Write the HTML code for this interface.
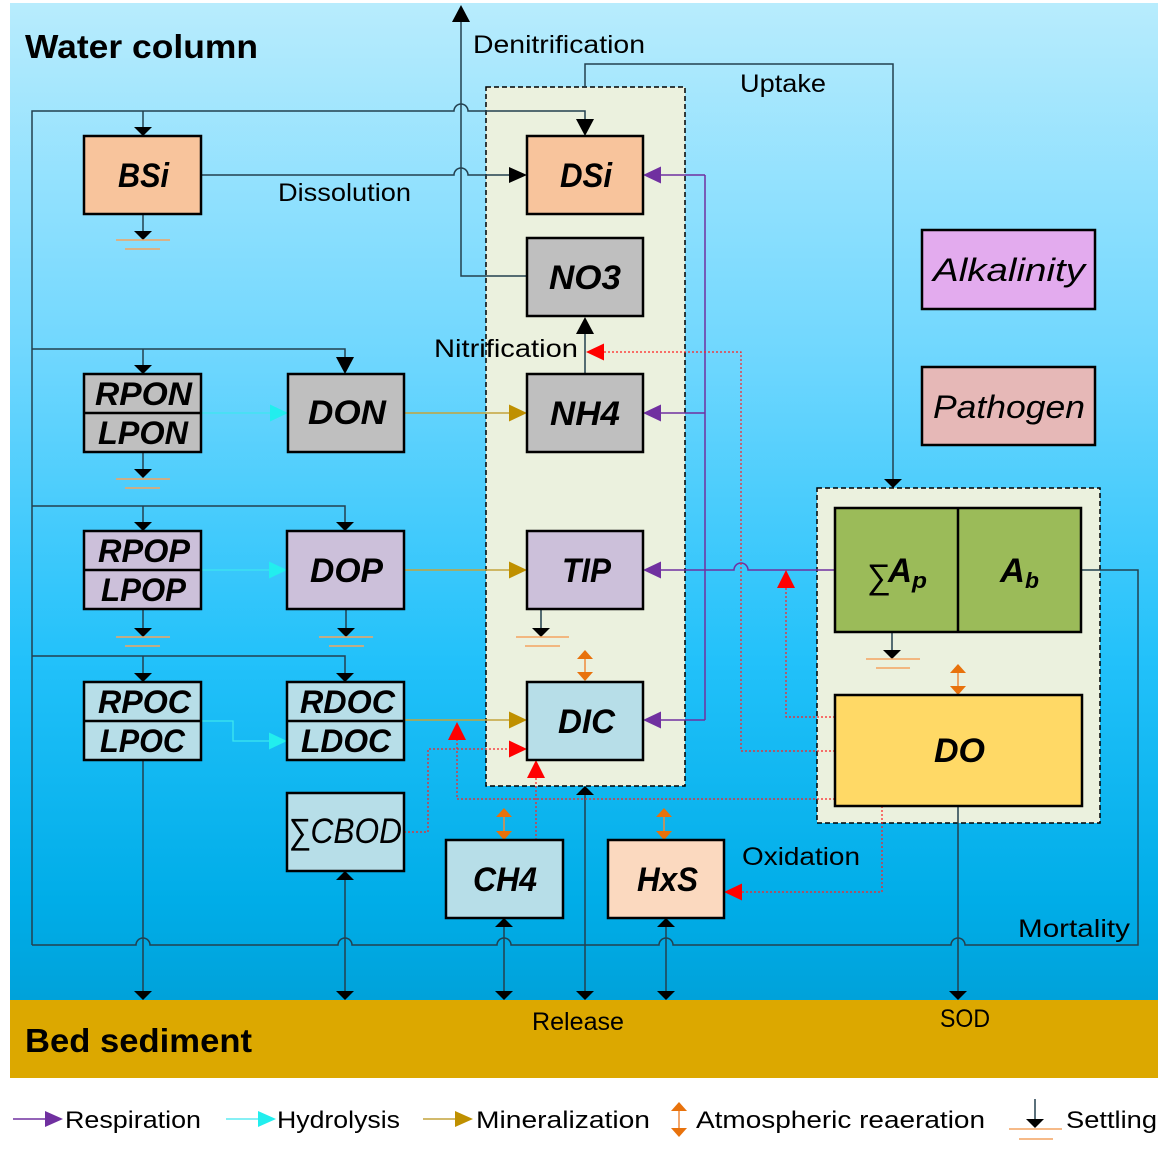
<!DOCTYPE html>
<html><head><meta charset="utf-8"><style>
html,body{margin:0;padding:0;background:#fff;}
svg{display:block;}
text{font-family:"Liberation Sans",sans-serif;fill:#000;}
.bi{font-weight:bold;font-style:italic;}
</style></head><body>
<svg width="1176" height="1154" viewBox="0 0 1176 1154" xmlns="http://www.w3.org/2000/svg">
<defs>
<linearGradient id="bg" x1="0" y1="0" x2="0" y2="1">
<stop offset="0" stop-color="#b8ecfd"/>
<stop offset="0.35" stop-color="#70d7fe"/>
<stop offset="0.66" stop-color="#22c1fa"/>
<stop offset="0.9" stop-color="#00ade8"/>
<stop offset="1" stop-color="#00a2da"/>
</linearGradient>
</defs>
<rect x="10" y="3" width="1148" height="997" fill="url(#bg)"/>
<rect x="10" y="1000" width="1148" height="78" fill="#dca800"/>

<!-- containers -->
<rect x="486" y="87" width="199" height="699" fill="#ebf1de" stroke="#000" stroke-width="1.5" stroke-dasharray="5,3"/>
<rect x="817" y="488" width="283" height="335" fill="#ebf1de" stroke="#000" stroke-width="1.5" stroke-dasharray="5,3"/>

<!-- dark connectors -->
<g fill="none" stroke="#23404f" stroke-width="1.5">
<path d="M32 945 V111 H454 A7 7 0 0 1 468 111 H585 V120"/>
<path d="M143 111 V128"/>
<path d="M201 175 H454 A7 7 0 0 1 468 175 H510"/>
<path d="M32 349 H345 V358"/>
<path d="M143 349 V366"/>
<path d="M32 506 H345 V523"/>
<path d="M143 506 V523"/>
<path d="M32 656 H345 V674"/>
<path d="M143 656 V674"/>
<path d="M32 945 H136 A7 7 0 0 1 150 945 H338 A7 7 0 0 1 352 945 H497 A7 7 0 0 1 511 945 H659 A7 7 0 0 1 673 945 H951 A7 7 0 0 1 965 945 H1138 V570 H1082"/>
<path d="M143 214 V232 M143 452 V470 M143 609 V629 M346 609 V629 M541 609 V629 M892 632 V651"/>
<path d="M527 276 H461 V20"/>
<path d="M585 87 V64 H893 V480"/>
<path d="M585 374 V332"/>
<path d="M143 760 V993 M345 880 V993 M504 926 V993 M585 795 V993 M666 926 V993 M958 806 V993"/>
<path d="M1035 1099 V1121"/>
</g>

<!-- black arrowheads -->
<g fill="#000">
<polygon points="134,127 152,127 143,136"/>
<polygon points="576,119 594,119 585,136"/>
<polygon points="509,167 509,183 527,175"/>
<polygon points="134,365 152,365 143,374"/>
<polygon points="336,357 354,357 345,374"/>
<polygon points="134,522 152,522 143,531"/>
<polygon points="336,522 354,522 345,531"/>
<polygon points="134,673 152,673 143,682"/>
<polygon points="336,673 354,673 345,682"/>
<polygon points="134,231 152,231 143,240"/>
<polygon points="134,469 152,469 143,478"/>
<polygon points="134,628 152,628 143,637"/>
<polygon points="337,628 355,628 346,637"/>
<polygon points="532,628 550,628 541,637"/>
<polygon points="883,650 901,650 892,659"/>
<polygon points="452,22 470,22 461,5"/>
<polygon points="884,479 902,479 893,488"/>
<polygon points="576,334 594,334 585,317"/>
<polygon points="134,991 152,991 143,1000"/>
<polygon points="336,991 354,991 345,1000"/>
<polygon points="495,991 513,991 504,1000"/>
<polygon points="576,991 594,991 585,1000"/>
<polygon points="657,991 675,991 666,1000"/>
<polygon points="949,991 967,991 958,1000"/>
<polygon points="336,880 354,880 345,871"/>
<polygon points="495,927 513,927 504,918"/>
<polygon points="576,795 594,795 585,786"/>
<polygon points="657,927 675,927 666,918"/>
<polygon points="1026,1119 1044,1119 1035,1128"/>
</g>

<!-- settling orange lines -->
<g stroke="#f4a460" stroke-width="1.6" fill="none">
<path d="M116 240 H170 M125 249 H160"/>
<path d="M116 479 H170 M125 488 H160"/>
<path d="M116 637 H170 M125 646 H160"/>
<path d="M319 637 H373 M329 646 H364"/>
<path d="M516 637 H569 M525 646 H560"/>
<path d="M866 659 H920 M876 668 H910"/>
<path d="M1009 1129 H1062 M1019 1139 H1053"/>
</g>

<!-- gold mineralization -->
<g stroke="#c4a43c" stroke-width="1.5" fill="none">
<path d="M404 413 H510 M404 570 H510 M404 720 H510 M423 1119 H456"/>
</g>
<g fill="#bf9000">
<polygon points="509,404.5 509,421.5 527,413"/>
<polygon points="509,561.5 509,578.5 527,570"/>
<polygon points="509,711.5 509,728.5 527,720"/>
<polygon points="455,1111 455,1127 473,1119"/>
</g>

<!-- cyan hydrolysis -->
<g stroke="#3de6ef" stroke-width="1.3" fill="none">
<path d="M201 413 H271 M201 570 H270 M201 721 H233 V741 H270 M226 1119 H259"/>
</g>
<g fill="#22eeee">
<polygon points="270,404.5 270,421.5 288,413"/>
<polygon points="269,561.5 269,578.5 287,570"/>
<polygon points="269,732.5 269,749.5 287,741"/>
<polygon points="258,1111 258,1127 276,1119"/>
</g>

<!-- purple respiration -->
<g stroke="#7030a0" stroke-width="1.5" fill="none">
<path d="M705 175 V720 M705 175 H660 M705 413 H660 M705 720 H660"/>
<path d="M660 570 H734 A7 7 0 0 1 748 570 H835"/>
<path d="M13 1119 H46"/>
</g>
<g fill="#7030a0">
<polygon points="661,166.5 661,183.5 643,175"/>
<polygon points="661,404.5 661,421.5 643,413"/>
<polygon points="661,561.5 661,578.5 643,570"/>
<polygon points="661,711.5 661,728.5 643,720"/>
<polygon points="45,1111 45,1127 63,1119"/>
</g>

<!-- red dotted -->
<g stroke="#ff2020" stroke-width="1.2" stroke-dasharray="2,2" fill="none">
<path d="M835 751 H741 V352 H603"/>
<path d="M835 717 H786 V587"/>
<path d="M835 799 H457 V739"/>
<path d="M404 832 H428 V749 H509"/>
<path d="M536 840 V777"/>
<path d="M882 806 V892 H742"/>
</g>
<g fill="#ff0000">
<polygon points="604,343.5 604,360.5 586,352"/>
<polygon points="777,588 795,588 786,570"/>
<polygon points="448,740 466,740 457,722"/>
<polygon points="509,740.5 509,757.5 527,749"/>
<polygon points="527,778 545,778 536,760"/>
<polygon points="742,883.5 742,900.5 724,892"/>
</g>

<!-- orange double arrows -->
<g stroke="#f08a3c" stroke-width="1.5">
<path d="M585 659 V672 M504 817 V831 M664 817 V831 M958 673 V686 M679 1111 V1128"/>
</g>
<g fill="#e8720c">
<polygon points="585,650 577,659 593,659"/><polygon points="585,681 577,672 593,672"/>
<polygon points="504,808 496,817 512,817"/><polygon points="504,840 496,831 512,831"/>
<polygon points="664,808 656,817 672,817"/><polygon points="664,840 656,831 672,831"/>
<polygon points="958,664 950,673 966,673"/><polygon points="958,695 950,686 966,686"/>
<polygon points="679,1102 671,1111 687,1111"/><polygon points="679,1137 671,1128 687,1128"/>
</g>

<!-- boxes -->
<g stroke="#000" stroke-width="2.5">
<rect x="84" y="136" width="117" height="78" fill="#f8c49c"/>
<rect x="527" y="136" width="116" height="78" fill="#f8c49c"/>
<rect x="527" y="238" width="116" height="78" fill="#bfbfbf"/>
<rect x="527" y="374" width="116" height="78" fill="#bfbfbf"/>
<rect x="527" y="531" width="116" height="78" fill="#ccc0da"/>
<rect x="527" y="682" width="116" height="78" fill="#b7dee8"/>
<rect x="84" y="374" width="117" height="78" fill="#bfbfbf"/>
<rect x="288" y="374" width="116" height="78" fill="#bfbfbf"/>
<rect x="84" y="531" width="117" height="78" fill="#ccc0da"/>
<rect x="287" y="531" width="117" height="78" fill="#ccc0da"/>
<rect x="84" y="682" width="117" height="78" fill="#b7dee8"/>
<rect x="287" y="682" width="117" height="78" fill="#b7dee8"/>
<rect x="287" y="793" width="117" height="78" fill="#b7dee8"/>
<rect x="446" y="840" width="117" height="78" fill="#b7dee8"/>
<rect x="608" y="840" width="116" height="78" fill="#fbd9bf"/>
<rect x="835" y="508" width="246" height="124" fill="#9bbb59"/>
<rect x="835" y="695" width="247" height="111" fill="#ffd966"/>
<rect x="922" y="230" width="173" height="79" fill="#e3abee"/>
<rect x="922" y="367" width="173" height="78" fill="#e6b8b7"/>
<path d="M84 413 H201 M84 570 H201 M84 721 H201 M287 721 H404 M958 508 V632" fill="none"/>
</g>

<!-- labels -->
<text x="25" y="58" font-size="33" font-weight="bold" textLength="233" lengthAdjust="spacingAndGlyphs">Water column</text>
<text x="25" y="1052" font-size="33" font-weight="bold" textLength="227" lengthAdjust="spacingAndGlyphs">Bed sediment</text>
<g font-size="25">
<text x="278" y="201" textLength="133" lengthAdjust="spacingAndGlyphs">Dissolution</text>
<text x="473" y="53" textLength="172" lengthAdjust="spacingAndGlyphs">Denitrification</text>
<text x="740" y="92" textLength="86" lengthAdjust="spacingAndGlyphs">Uptake</text>
<text x="434" y="357" textLength="144" lengthAdjust="spacingAndGlyphs">Nitrification</text>
<text x="742" y="865" textLength="118" lengthAdjust="spacingAndGlyphs">Oxidation</text>
<text x="1018" y="937" textLength="112" lengthAdjust="spacingAndGlyphs">Mortality</text>
<text x="940" y="1027" textLength="50" lengthAdjust="spacingAndGlyphs">SOD</text>
<text x="532" y="1030" textLength="92" lengthAdjust="spacingAndGlyphs">Release</text>
</g>

<!-- box labels -->
<g class="bi" font-size="34">
<text class="bi" x="118" y="187" textLength="51" lengthAdjust="spacingAndGlyphs">BSi</text>
<text class="bi" x="560" y="187" textLength="52" lengthAdjust="spacingAndGlyphs">DSi</text>
<text class="bi" x="549" y="289" textLength="72" lengthAdjust="spacingAndGlyphs">NO3</text>
<text class="bi" x="550" y="425" textLength="70" lengthAdjust="spacingAndGlyphs">NH4</text>
<text class="bi" x="562" y="582" textLength="49" lengthAdjust="spacingAndGlyphs">TIP</text>
<text class="bi" x="558" y="733" textLength="57" lengthAdjust="spacingAndGlyphs">DIC</text>
<text class="bi" x="473" y="891" textLength="64" lengthAdjust="spacingAndGlyphs">CH4</text>
<text class="bi" x="637" y="891" textLength="61" lengthAdjust="spacingAndGlyphs">HxS</text>
<text class="bi" x="308" y="424" textLength="78" lengthAdjust="spacingAndGlyphs">DON</text>
<text class="bi" x="310" y="582" textLength="73" lengthAdjust="spacingAndGlyphs">DOP</text>
<text class="bi" x="934" y="762" textLength="51" lengthAdjust="spacingAndGlyphs">DO</text>
<text class="bi" x="888" y="582" textLength="24" lengthAdjust="spacingAndGlyphs">A</text>
<text class="bi" x="912" y="588" font-size="22" textLength="15" lengthAdjust="spacingAndGlyphs">p</text>
<text class="bi" x="1000" y="582" textLength="25" lengthAdjust="spacingAndGlyphs">A</text>
<text class="bi" x="1025" y="588" font-size="22" textLength="14" lengthAdjust="spacingAndGlyphs">b</text>
</g>
<text x="866" y="588" font-size="34" font-style="italic" textLength="24" lengthAdjust="spacingAndGlyphs">∑</text>
<g font-size="32">
<text class="bi" x="95" y="405" textLength="97" lengthAdjust="spacingAndGlyphs">RPON</text>
<text class="bi" x="98" y="444" textLength="90" lengthAdjust="spacingAndGlyphs">LPON</text>
<text class="bi" x="98" y="562" textLength="92" lengthAdjust="spacingAndGlyphs">RPOP</text>
<text class="bi" x="101" y="601" textLength="85" lengthAdjust="spacingAndGlyphs">LPOP</text>
<text class="bi" x="98" y="713" textLength="93" lengthAdjust="spacingAndGlyphs">RPOC</text>
<text class="bi" x="100" y="752" textLength="85" lengthAdjust="spacingAndGlyphs">LPOC</text>
<text class="bi" x="300" y="713" textLength="95" lengthAdjust="spacingAndGlyphs">RDOC</text>
<text class="bi" x="301" y="752" textLength="90" lengthAdjust="spacingAndGlyphs">LDOC</text>
</g>
<text x="288" y="843" font-size="35" font-style="italic" textLength="114" lengthAdjust="spacingAndGlyphs">∑CBOD</text>
<text x="933" y="281" font-size="32" font-style="italic" textLength="152" lengthAdjust="spacingAndGlyphs">Alkalinity</text>
<text x="933" y="418" font-size="32" font-style="italic" textLength="152" lengthAdjust="spacingAndGlyphs">Pathogen</text>

<!-- legend -->
<g font-size="24">
<text x="65" y="1128" textLength="136" lengthAdjust="spacingAndGlyphs">Respiration</text>
<text x="277" y="1128" textLength="123" lengthAdjust="spacingAndGlyphs">Hydrolysis</text>
<text x="476" y="1128" textLength="174" lengthAdjust="spacingAndGlyphs">Mineralization</text>
<text x="696" y="1128" textLength="289" lengthAdjust="spacingAndGlyphs">Atmospheric reaeration</text>
<text x="1066" y="1128" textLength="91" lengthAdjust="spacingAndGlyphs">Settling</text>
</g>
</svg>
</body></html>
